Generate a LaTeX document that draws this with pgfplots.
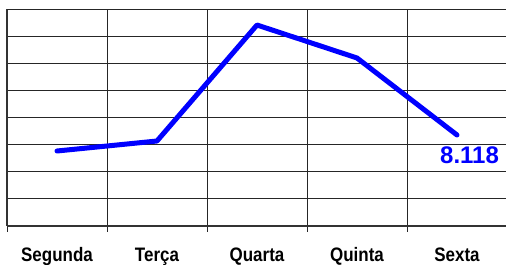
\documentclass[border=0pt]{standalone}
\usepackage{pgfplots}
\pgfplotsset{compat=1.18}
\usepackage{fontspec}
\setmainfont{Liberation Sans}
\newfontfamily\narrowfont[FakeStretch=0.87]{Liberation Sans}
\definecolor{pureblue}{RGB}{0,0,255}
\begin{document}
\begin{tikzpicture}[x=1pt,y=1pt]
\useasboundingbox (0,0) rectangle (506,265);
\begin{axis}[
  at={(7pt,39pt)}, anchor=south west,
  scale only axis, width=500pt, height=217pt,
  xmin=-0.5, xmax=4.5, ymin=4.763, ymax=12.763,
  xtick={0,1,2,3,4},
  xticklabels={Segunda,Terça,Quarta,Quinta,Sexta},
  minor xtick={-0.5,0.5,1.5,2.5,3.5},
  xtick pos=bottom, ytick pos=left,
  tick align=outside,
  x tick style={draw=none},
  minor x tick style={draw=black!85, line width=0.9pt},
  minor tick length=6pt,
  xminorgrids=true,
  minor x grid style={draw=black!85, line width=0.9pt},
  ytick={5.763,6.763,7.763,8.763,9.763,10.763,11.763},
  yticklabels={},
  y tick style={draw=none},
  ymajorgrids=true,
  major y grid style={draw=black!85, line width=0.9pt},
  extra y ticks={12.763},
  extra y tick labels={},
  extra y tick style={major grid style={draw=black!40, line width=1.8pt}, tick style={draw=none}},
  axis lines*=left,
  axis line style={-, draw=black!80, line width=1.1pt},
  xticklabel style={font=\narrowfont\bfseries\fontsize{19.5}{19.5}\selectfont, inner sep=0pt, text height=14pt, text depth=4pt, yshift=-17.5pt},
  clip=false,
]
\addplot[pureblue, line width=5pt, line join=round, line cap=round] coordinates {
  (0,7.528) (1,7.897) (2,12.173) (3,10.957) (4,8.118)
};
\addplot[draw=none, mark=none, nodes near coords, point meta=explicit symbolic,
  every node near coord/.append style={anchor=base west, inner sep=0pt, xshift=-17pt, yshift=-29pt, text=pureblue, font=\bfseries\fontsize{24}{24}\selectfont}]
  coordinates {(4,8.118)[8.118]};
\end{axis}
\end{tikzpicture}
\end{document}
